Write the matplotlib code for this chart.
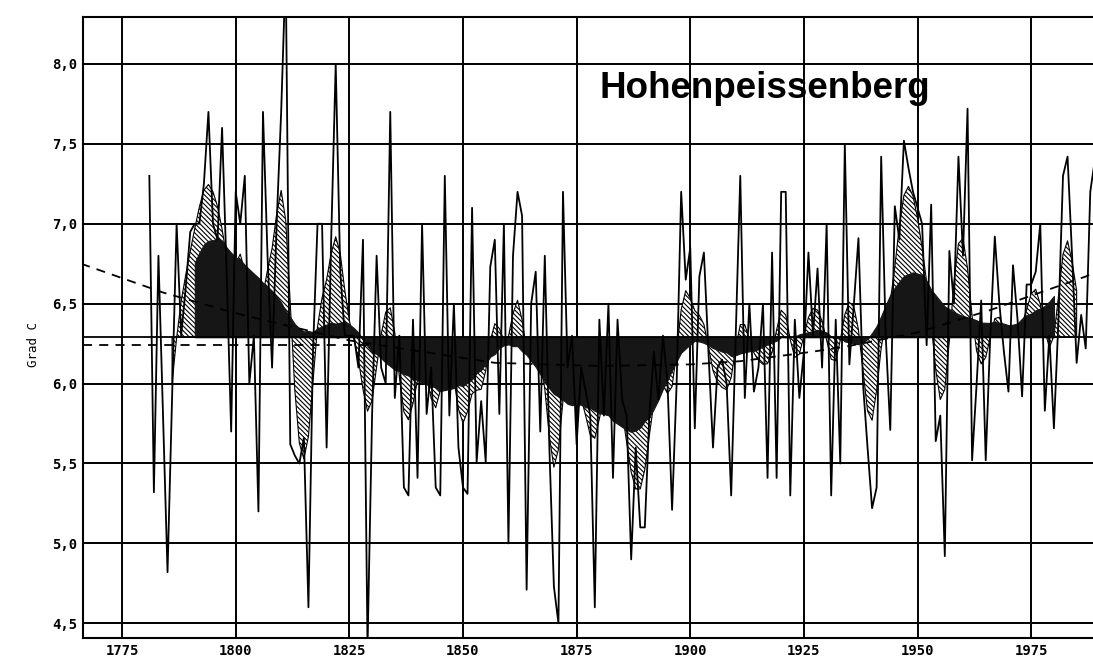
import matplotlib.pyplot as plt
import numpy as np
import pandas as pd

# annual mean temperature, Hohenpeissenberg, 1781-1990
years = np.arange(1781, 1991)
temps = [
    7.30, 5.32, 6.80, 5.80, 4.82, 5.90, 7.00, 6.30, 6.60, 6.95,   # 1781-1790
    7.00, 7.00, 7.25, 7.70, 7.00, 6.90, 7.60, 6.70, 5.70, 7.20,   # 1791-1800
    7.00, 7.30, 6.00, 6.30, 5.20, 7.70, 6.80, 6.10, 7.00, 7.70,   # 1801-1810
    8.60, 5.62, 5.55, 5.50, 5.66, 4.60, 6.20, 7.00, 7.00, 5.60,   # 1811-1820
    6.90, 8.00, 6.70, 6.30, 6.30, 6.30, 6.10, 6.90, 4.35, 5.80,   # 1821-1830
    6.80, 6.10, 6.00, 7.70, 5.91, 6.30, 5.35, 5.30, 6.40, 5.41,   # 1831-1840
    7.00, 5.81, 6.10, 5.35, 5.30, 7.30, 5.80, 6.50, 5.60, 5.35,   # 1841-1850
    5.31, 7.10, 5.51, 5.89, 5.51, 6.73, 6.90, 5.81, 7.00, 5.00,   # 1851-1860
    6.80, 7.20, 7.05, 4.71, 6.50, 6.70, 5.70, 6.80, 5.60, 4.73,   # 1861-1870
    4.50, 7.20, 6.10, 6.30, 5.62, 6.10, 5.95, 5.80, 4.60, 6.40,   # 1871-1880
    5.80, 6.50, 5.41, 6.40, 5.90, 5.80, 4.90, 5.60, 5.10, 5.10,   # 1881-1890
    5.80, 6.20, 5.90, 6.30, 6.00, 5.21, 6.00, 7.20, 6.65, 6.85,   # 1891-1900
    5.72, 6.67, 6.82, 6.20, 5.60, 6.10, 6.15, 6.00, 5.30, 6.30,   # 1901-1910
    7.30, 5.91, 6.50, 5.95, 6.10, 6.50, 5.41, 6.82, 5.41, 7.20,   # 1911-1920
    7.20, 5.30, 6.40, 5.91, 6.20, 6.82, 6.30, 6.72, 6.10, 7.00,   # 1921-1930
    5.30, 6.40, 5.50, 7.50, 6.12, 6.50, 6.91, 6.00, 5.60, 5.22,   # 1931-1940
    5.35, 7.42, 6.30, 5.71, 7.11, 6.90, 7.52, 7.35, 7.20, 7.10,   # 1941-1950
    7.00, 6.24, 7.12, 5.64, 5.80, 4.92, 6.83, 6.50, 7.42, 6.80,   # 1951-1960
    7.72, 5.52, 6.00, 6.52, 5.52, 6.30, 6.92, 6.50, 6.20, 5.95,   # 1961-1970
    6.74, 6.40, 5.92, 6.62, 6.62, 6.70, 7.00, 5.83, 6.30, 5.72,   # 1971-1980
    6.40, 7.30, 7.42, 6.80, 6.13, 6.43, 6.22, 7.20, 7.40, 7.40,   # 1981-1990
]

baseline = 6.29
mean_level = 6.24

# dashed trend curve
trend_years = [1766, 1784, 1800, 1825, 1857, 1880, 1900, 1911, 1927, 1934, 1950, 1966, 1987, 1990]
trend_vals = [6.75, 6.57, 6.44, 6.27, 6.13, 6.11, 6.12, 6.14, 6.20, 6.23, 6.32, 6.46, 6.67, 6.71]

x_ticks = [1775, 1800, 1825, 1850, 1875, 1900, 1925, 1950, 1975]
y_ticks = [4.5, 5.0, 5.5, 6.0, 6.5, 7.0, 7.5, 8.0]
y_labels = ['4,5', '5,0', '5,5', '6,0', '6,5', '7,0', '7,5', '8,0']


def gauss_lowpass(s, half, sigma):
    k = np.arange(-half, half + 1)
    w = np.exp(-0.5 * (k / sigma) ** 2)
    w = w / w.sum()
    return s.rolling(2 * half + 1, center=True).apply(lambda v: np.dot(v, w), raw=True)


series = pd.Series(temps, index=years)
short_filter = gauss_lowpass(series, 5, 1.5)    # hatched curve
long_filter = gauss_lowpass(series, 10, 5.0)    # black curve

plt.rcParams['hatch.linewidth'] = 0.8

fig = plt.figure(figsize=(10.93, 6.61), dpi=100)
ax = fig.add_axes([0.0755, 0.0348, 0.9245, 0.9395])

ok1 = ~np.isnan(short_filter.values)
ax.fill_between(years[ok1], baseline, short_filter.values[ok1],
                facecolor='white', edgecolor='black', hatch='\\' * 7,
                linewidth=0.8, interpolate=True, zorder=2)
ok2 = ~np.isnan(long_filter.values)
ax.fill_between(years[ok2], baseline, long_filter.values[ok2],
                facecolor='#161616', edgecolor='#161616', linewidth=0.8,
                interpolate=True, zorder=3)

ax.axhline(baseline, color='black', linewidth=1.3, zorder=3)
ax.plot([1766.3, 1830], [mean_level, mean_level], color='black', linewidth=1.3,
        dashes=(5, 4), zorder=3)
ax.plot(trend_years, trend_vals, color='black', linewidth=1.3, dashes=(5, 4), zorder=3)

ax.plot(years, temps, color='black', linewidth=1.3, zorder=4)

ax.set_xlim(1766.3, 1988.6)
ax.set_ylim(4.408, 8.294)
ax.set_xticks(x_ticks)
ax.set_xticklabels([str(t) for t in x_ticks])
ax.set_yticks(y_ticks)
ax.set_yticklabels(y_labels)
ax.tick_params(length=0, pad=4)
for lab in ax.get_xticklabels() + ax.get_yticklabels():
    lab.set_family('DejaVu Sans Mono')
    lab.set_fontsize(10)
    lab.set_fontweight('bold')

ax.grid(True, color='black', linewidth=1.4, zorder=1)
ax.set_axisbelow(True)
for side in ['left', 'top', 'bottom']:
    ax.spines[side].set_linewidth(1.5)
ax.spines['right'].set_visible(False)

ax.set_ylabel('Grad C', fontsize=9, family='DejaVu Sans Mono')
ax.yaxis.set_label_coords(-0.042, 0.472)

ax.text(1880.1, 7.79, 'Hohenpeissenberg', fontsize=26.5, fontweight='bold',
        family=['Liberation Sans', 'DejaVu Sans'], ha='left', va='baseline', zorder=6)

fig.savefig('out.png', dpi=100)
